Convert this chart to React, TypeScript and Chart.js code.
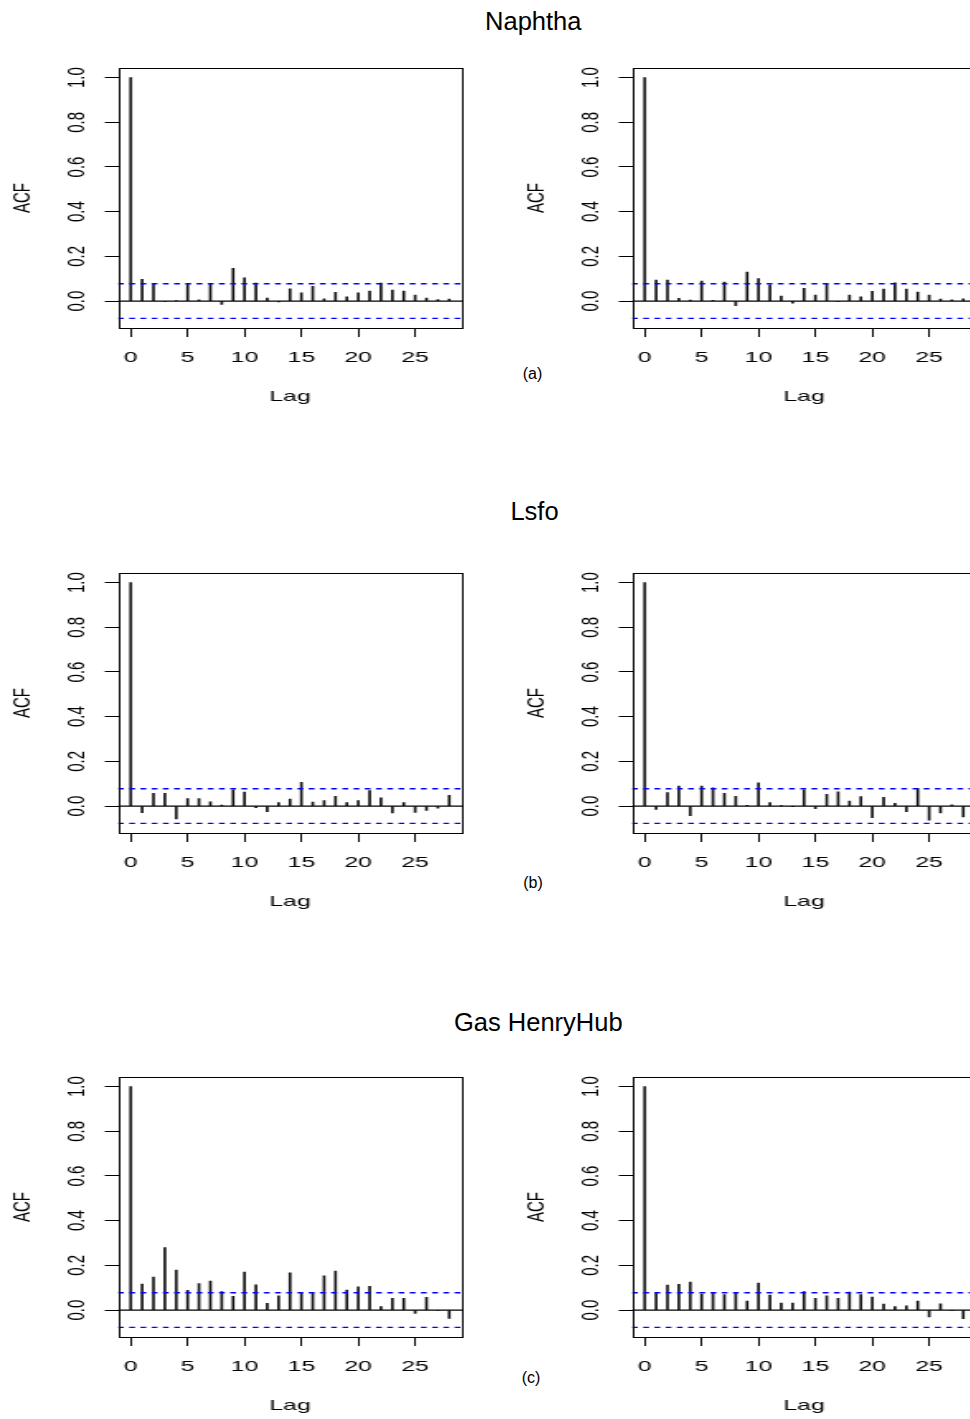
import React, { useEffect, useRef } from "react";
import { Chart, registerables } from "chart.js";

Chart.register(...registerables);

// Autocorrelation estimates, lags 0..28
const LAGS = [0, 1, 2, 3, 4, 5, 6, 7, 8, 9, 10, 11, 12, 13, 14, 15, 16, 17, 18, 19, 20, 21, 22, 23, 24, 25, 26, 27, 28];

const NAPHTHA_LEFT = [1, 0.097, 0.076, -0.003, 0.002, 0.076, 0.006, 0.079, -0.015, 0.146, 0.104, 0.08, 0.013, -0.004, 0.055, 0.037, 0.066, 0.01, 0.039, 0.019, 0.037, 0.045, 0.08, 0.049, 0.045, 0.027, 0.013, 0.007, 0.009];
const NAPHTHA_RIGHT = [1, 0.094, 0.094, 0.012, 0.004, 0.089, 0.003, 0.085, -0.021, 0.13, 0.101, 0.073, 0.022, -0.01, 0.057, 0.027, 0.077, -0.002, 0.027, 0.019, 0.043, 0.054, 0.082, 0.054, 0.04, 0.027, 0.009, 0.006, 0.01];
const LSFO_LEFT = [1, -0.03, 0.057, 0.057, -0.058, 0.034, 0.034, 0.019, 0.004, 0.073, 0.063, -0.007, -0.025, 0.016, 0.031, 0.106, 0.018, 0.024, 0.043, 0.016, 0.025, 0.069, 0.037, -0.031, 0.015, -0.028, -0.019, -0.009, 0.048];
const LSFO_RIGHT = [1, -0.015, 0.06, 0.089, -0.043, 0.089, 0.082, 0.057, 0.043, 0.003, 0.104, 0.016, 0.001, -0.001, 0.073, -0.012, 0.052, 0.064, 0.022, 0.042, -0.052, 0.039, 0.012, -0.025, 0.079, -0.063, -0.031, 0.006, -0.049];
const GAS_LEFT = [1, 0.116, 0.148, 0.28, 0.179, 0.088, 0.119, 0.13, 0.083, 0.061, 0.17, 0.113, 0.03, 0.064, 0.167, 0.077, 0.076, 0.153, 0.174, 0.089, 0.104, 0.106, 0.015, 0.052, 0.052, -0.015, 0.057, -0.002, -0.037];
const GAS_RIGHT = [1, 0.076, 0.112, 0.115, 0.125, 0.072, 0.076, 0.069, 0.076, 0.04, 0.121, 0.067, 0.031, 0.031, 0.083, 0.052, 0.064, 0.052, 0.08, 0.069, 0.058, 0.027, 0.016, 0.019, 0.04, -0.031, 0.028, -0.002, -0.039];

// 95% confidence bound drawn as dashed blue lines
const CI = 0.0775;

// Axis extents (data range widened by 4%)
const X_MIN = -1.12;
const X_MAX = 29.12;
const Y_MIN = -0.1206;
const Y_MAX = 1.0431;

const X_TICKS = [0, 5, 10, 15, 20, 25];
const X_TICK_LABELS = ["0", "5", "10", "15", "20", "25"];
const Y_TICKS = [0, 0.2, 0.4, 0.6, 0.8, 1.0];
const Y_TICK_LABELS = ["0.0", "0.2", "0.4", "0.6", "0.8", "1.0"];

const ROW_TITLES = ["Naphtha", "Lsfo", "Gas HenryHub"];
const ROW_CAPTIONS = ["(a)", "(b)", "(c)"];
const ROW_SERIES = [
  [NAPHTHA_LEFT, NAPHTHA_RIGHT],
  [LSFO_LEFT, LSFO_RIGHT],
  [GAS_LEFT, GAS_RIGHT],
];

const FONT = "'Liberation Sans', Arial, Helvetica, sans-serif";
const STRETCH = 1.65;
const PANEL_W = 297;
const PANEL_H = 380;
const ROW_STEP = 504.5;

const frameBox = {
  id: "frameBox",
  afterDraw(chart: any) {
    const { ctx, chartArea } = chart;
    const l = Math.round(chartArea.left) + 0.5;
    const t = Math.round(chartArea.top) + 0.5;
    const r = Math.round(chartArea.right) + 0.5;
    const b = Math.round(chartArea.bottom) + 0.5;
    ctx.save();
    ctx.strokeStyle = "#000";
    ctx.lineWidth = 1;
    ctx.strokeRect(l, t, r - l, b - t);
    ctx.restore();
  },
};

function AcfPanel({ values, left, top }: { values: number[]; left: number; top: number }) {
  const ref = useRef<HTMLCanvasElement | null>(null);

  useEffect(() => {
    if (!ref.current) return;
    const hline = (y: number, color: string, dash: number[]) => ({
      type: "line" as const,
      data: [
        { x: X_MIN, y },
        { x: X_MAX, y },
      ],
      borderColor: color,
      borderWidth: 1.3,
      borderDash: dash,
      pointRadius: 0,
      fill: false,
    });
    const chart = new Chart(ref.current, {
      type: "bar",
      data: {
        datasets: [
          hline(0, "#000", []),
          hline(CI, "#0000ff", [3.5, 3.3]),
          hline(-CI, "#0000ff", [3.5, 3.3]),
          {
            type: "bar",
            data: LAGS.map((lag, i) => ({ x: lag, y: values[i] })),
            backgroundColor: "#111",
            borderWidth: 0,
            barThickness: 1,
          },
        ] as any,
      },
      options: {
        animation: false,
        responsive: false,
        events: [],
        layout: { padding: { left: 0, right: 17, top: 28, bottom: 12 } },
        plugins: {
          legend: { display: false },
          tooltip: { enabled: false },
          title: { display: false },
        },
        scales: {
          x: {
            type: "linear",
            position: "bottom",
            min: X_MIN,
            max: X_MAX,
            bounds: "data",
            offset: false,
            afterBuildTicks: (s: any) => {
              s.ticks = X_TICKS.map((v) => ({ value: v }));
            },
            afterFit: (s: any) => {
              s.height = 80;
            },
            grid: {
              display: true,
              drawOnChartArea: false,
              drawTicks: true,
              tickLength: 9,
              color: "#000",
              lineWidth: 1,
              offset: false,
            },
            border: { display: false },
            ticks: {
              color: "#000",
              font: { family: FONT, size: 15 },
              padding: 11.5,
              minRotation: 0,
              maxRotation: 0,
              autoSkip: false,
              callback: (_v: any, i: number) => X_TICK_LABELS[i],
            },
            title: {
              display: true,
              text: "Lag",
              color: "#000",
              font: { family: FONT, size: 15 },
              padding: { top: 0, bottom: 2 },
            },
          },
          y: {
            type: "linear",
            position: "left",
            min: Y_MIN,
            max: Y_MAX,
            bounds: "data",
            afterBuildTicks: (s: any) => {
              s.ticks = Y_TICKS.map((v) => ({ value: v }));
            },
            afterFit: (s: any) => {
              s.width = 71.5;
            },
            grid: {
              display: true,
              drawOnChartArea: false,
              drawTicks: true,
              tickLength: 8,
              color: "#000",
              lineWidth: 1,
            },
            border: { display: false },
            ticks: {
              color: "#000",
              font: { family: FONT, size: 15 },
              padding: 6,
              minRotation: 90,
              maxRotation: 90,
              crossAlign: "center",
              autoSkip: false,
              callback: (_v: any, i: number) => Y_TICK_LABELS[i],
            },
            title: {
              display: true,
              text: "ACF",
              color: "#000",
              font: { family: FONT, size: 15 },
              padding: { top: 5, bottom: 0 },
            },
          },
        },
      } as any,
      plugins: [frameBox],
    });
    return () => chart.destroy();
  }, [values]);

  return (
    <div
      style={{
        position: "absolute",
        left,
        top,
        width: PANEL_W,
        height: PANEL_H,
        transform: `scaleX(${STRETCH})`,
        transformOrigin: "0 0",
      }}
    >
      <canvas ref={ref} width={PANEL_W} height={PANEL_H} style={{ display: "block" }} />
    </div>
  );
}

// Title/caption placement: [top, centre x]
const TITLE_POS = [
  [9.4, 533.3],
  [499.4, 534.5],
  [1010.4, 538.3],
];
const CAPTION_POS = [
  [365.5, 532.5],
  [875, 533],
  [1370, 531],
];

export default function App() {
  return (
    <div
      style={{
        position: "fixed",
        left: 0,
        top: 0,
        width: 970,
        height: 1419,
        overflow: "hidden",
        background: "#fff",
        fontFamily: FONT,
        color: "#000",
      }}
    >
      {ROW_SERIES.map((pair, r) => (
        <React.Fragment key={r}>
          <div
            style={{
              position: "absolute",
              left: TITLE_POS[r][1] - 200,
              top: TITLE_POS[r][0],
              width: 400,
              textAlign: "center",
              fontSize: 25.5,
              lineHeight: 1,
              whiteSpace: "nowrap",
            }}
          >
            {ROW_TITLES[r]}
          </div>
          <div
            style={{
              position: "absolute",
              left: CAPTION_POS[r][1] - 50,
              top: CAPTION_POS[r][0],
              width: 100,
              textAlign: "center",
              fontSize: 16,
              lineHeight: 1,
            }}
          >
            {ROW_CAPTIONS[r]}
          </div>
          <AcfPanel values={pair[0]} left={0} top={40 + r * ROW_STEP} />
          <AcfPanel values={pair[1]} left={514} top={40 + r * ROW_STEP} />
        </React.Fragment>
      ))}
    </div>
  );
}
